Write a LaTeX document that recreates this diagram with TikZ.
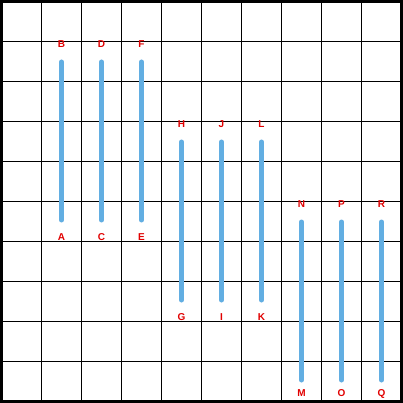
\documentclass[tikz,border=0pt]{standalone}
\usepackage{fontspec}
\setmainfont{Liberation Sans}
\begin{document}
\begin{tikzpicture}[x=1pt,y=-1pt,
  gridline/.style={black,line width=1pt},
  frameline/.style={black,line width=3pt},
  bar/.style={draw={rgb,255:red,98;green,174;blue,226},line width=5pt,line cap=round},
  lbl/.style={text={rgb,255:red,225;green,0;blue,0},font=\fontsize{10}{10}\selectfont\bfseries,inner sep=0pt}]
\useasboundingbox (0,0) rectangle (403,403);
\fill[white] (0,0) rectangle (403,403);
\foreach \k in {1,...,9}{
  \draw[gridline] ({1.5+40*\k},0) -- ({1.5+40*\k},403);
  \draw[gridline] (0,{1.5+40*\k}) -- (403,{1.5+40*\k});
}
\draw[frameline] (1.5,1.5) rectangle (401.5,401.5);
% group 1
\foreach \x/\t/\b in {61.5/B/A,101.5/D/C,141.5/F/E}{
  \coordinate (t\t) at (\x,62);
  \coordinate (b\b) at (\x,220);
  \node[lbl] (\t) at (\x,44) {\t};
  \node[lbl] (\b) at (\x,237.5) {\b};
  \draw[bar] (b\b) -- (t\t);
}
% group 2
\foreach \x/\t/\b in {181.5/H/G,221.5/J/I,261.5/L/K}{
  \coordinate (t\t) at (\x,142);
  \coordinate (b\b) at (\x,300);
  \node[lbl] (\t) at (\x,124) {\t};
  \node[lbl] (\b) at (\x,317.5) {\b};
  \draw[bar] (b\b) -- (t\t);
}
% group 3
\foreach \x/\t/\b in {301.5/N/M,341.5/P/O,381.5/R/Q}{
  \coordinate (t\t) at (\x,222);
  \coordinate (b\b) at (\x,380);
  \node[lbl] (\t) at (\x,204) {\t};
  \node[lbl] (\b) at (\x,393.5) {\b};
  \draw[bar] (b\b) -- (t\t);
}
\end{tikzpicture}
\end{document}
